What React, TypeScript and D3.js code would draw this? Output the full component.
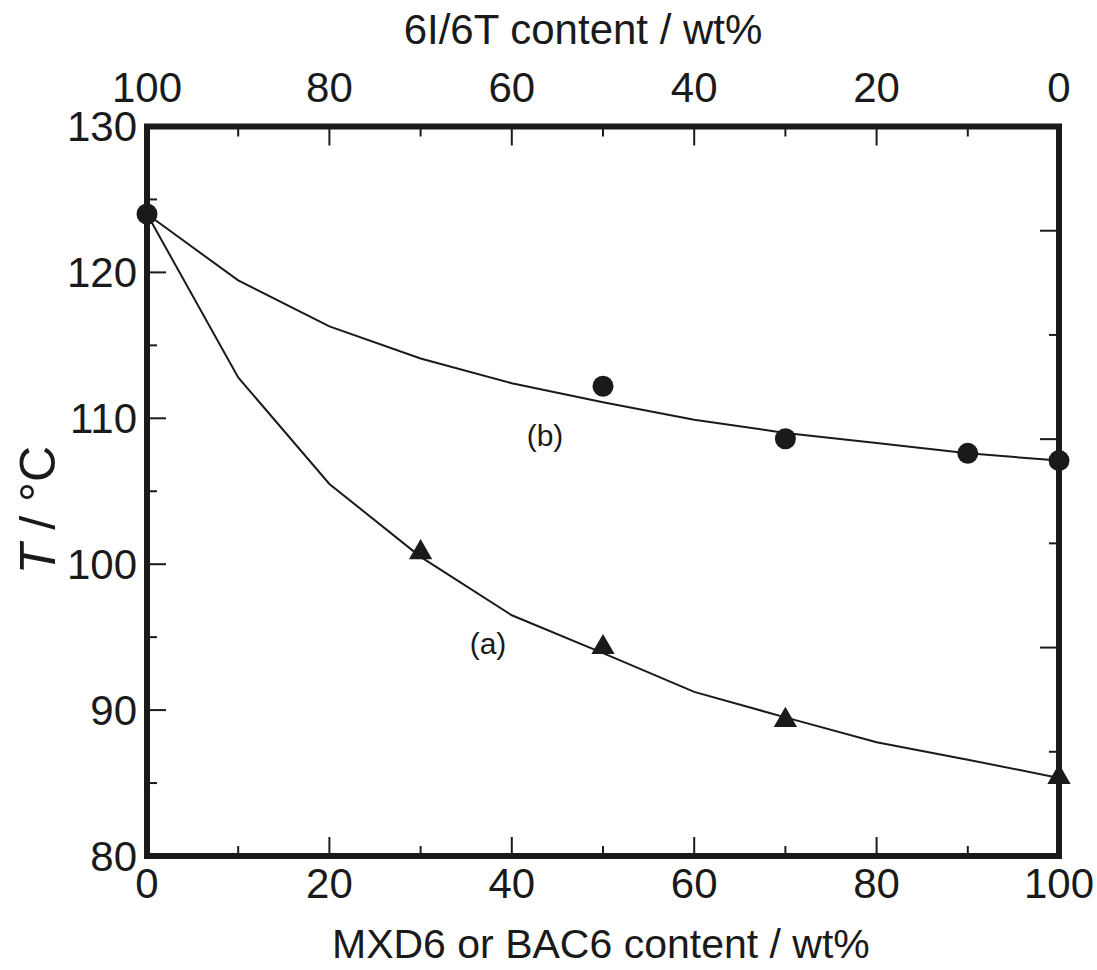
import React from "react";
import * as d3 from "d3";

// ---- data ----
const curveX = [0, 10, 20, 30, 40, 50, 60, 70, 80, 90, 100];
const curveA = [124, 112.8, 105.5, 100.5, 96.5, 93.9, 91.25, 89.5, 87.8, 86.6, 85.35];
const curveB = [124, 119.45, 116.3, 114.1, 112.4, 111.1, 109.9, 109.0, 108.3, 107.6, 107.1];
const circleX = [0, 50, 70, 90, 100];
const circleY = [124, 112.2, 108.6, 107.6, 107.1];
const triangleX = [30, 50, 70, 100];
const triangleY = [100.8, 94.3, 89.3, 85.4];

const bottomTicks = [0, 10, 20, 30, 40, 50, 60, 70, 80, 90, 100];
const bottomLabels = [0, 20, 40, 60, 80, 100];
const topTicks = [0, 10, 20, 30, 40, 50, 60, 70, 80, 90, 100];
const topLabels = [0, 20, 40, 60, 80, 100];
const leftTicks = [80, 85, 90, 95, 100, 105, 110, 115, 120, 125, 130];
const leftLabels = [80, 90, 100, 110, 120, 130];
const rightTicks = [10, 20, 30, 40, 50, 60];

const W = 1097;
const H = 970;
const FONT = "'Liberation Sans', Arial, Helvetica, sans-serif";

export default function App() {
  const x = d3.scaleLinear().domain([0, 100]).range([147, 1059]);
  const xTop = d3.scaleLinear().domain([100, 0]).range([147, 1059]);
  const y = d3.scaleLinear().domain([80, 130]).range([856, 126.5]);
  const yRight = d3.scaleLinear().domain([0, 70]).range([856, 126.5]);

  const line = d3
    .line<number>()
    .x((_, i) => x(curveX[i]))
    .y((d) => y(d));

  const tri = d3.symbol().type(d3.symbolTriangle).size(235)();

  const [x0, x1] = x.range();
  const [y0, y1] = y.range();
  const longT = 19;
  const shortT = 10;

  return (
    <svg
      width={W}
      height={H}
      style={{ position: "absolute", left: 0, top: 0, background: "#fff" }}
      fontFamily={FONT}
    >
      <rect x={0} y={0} width={W} height={H} fill="#fff" />
      {/* curves */}
      <path d={line(curveA) || ""} fill="none" stroke="#1a1a1a" strokeWidth={2} />
      <path d={line(curveB) || ""} fill="none" stroke="#1a1a1a" strokeWidth={2} />

      {/* ticks */}
      <g stroke="#1a1a1a" strokeWidth={2}>
        {bottomTicks.map((t) => (
          <line key={"b" + t} x1={x(t)} x2={x(t)} y1={y0} y2={y0 - (t % 20 === 0 ? longT : shortT)} />
        ))}
        {topTicks.map((t) => (
          <line key={"t" + t} x1={xTop(t)} x2={xTop(t)} y1={y1} y2={y1 + (t % 20 === 0 ? longT : shortT)} />
        ))}
        {leftTicks.map((t) => (
          <line key={"l" + t} x1={x0} x2={x0 + (t % 10 === 0 ? longT : shortT)} y1={y(t)} y2={y(t)} />
        ))}
        {rightTicks.map((t) => (
          <line key={"r" + t} x1={x1} x2={x1 - (t % 20 === 0 ? longT : shortT)} y1={yRight(t)} y2={yRight(t)} />
        ))}
      </g>

      {/* frame */}
      <rect
        x={x0}
        y={y1}
        width={x1 - x0}
        height={y0 - y1}
        fill="none"
        stroke="#1a1a1a"
        strokeWidth={6}
      />

      {/* markers */}
      {circleX.map((cx, i) => (
        <circle key={"c" + i} cx={x(cx)} cy={y(circleY[i])} r={10.5} fill="#1a1a1a" />
      ))}
      {triangleX.map((tx, i) => (
        <path
          key={"tr" + i}
          d={tri || ""}
          transform={`translate(${x(tx)},${y(triangleY[i])})`}
          fill="#1a1a1a"
        />
      ))}

      {/* tick labels */}
      <g fontSize={42} fill="#1a1a1a">
        {bottomLabels.map((t) => (
          <text key={"bl" + t} x={x(t)} y={898} textAnchor="middle">
            {t}
          </text>
        ))}
        {topLabels.map((t) => (
          <text key={"tl" + t} x={xTop(t)} y={102} textAnchor="middle">
            {t}
          </text>
        ))}
        {leftLabels.map((t) => (
          <text key={"ll" + t} x={137} y={y(t)} textAnchor="end" dominantBaseline="central">
            {t}
          </text>
        ))}
      </g>

      {/* axis titles */}
      <text x={583} y={44} fontSize={42} textAnchor="middle" fill="#1a1a1a">
        6I/6T content / wt%
      </text>
      <text x={332} y={958} fontSize={41} textAnchor="start" fill="#1a1a1a">
        MXD6 or BAC6 content / wt%
      </text>
      <text
        transform="translate(55,510) rotate(-90)"
        fontSize={50}
        textAnchor="middle"
        fill="#1a1a1a"
      >
        <tspan fontStyle="italic">T</tspan> / °C
      </text>

      {/* curve labels */}
      <text x={545} y={435} fontSize={30} textAnchor="middle" dominantBaseline="central" fill="#1a1a1a">
        (b)
      </text>
      <text x={488} y={643} fontSize={30} textAnchor="middle" dominantBaseline="central" fill="#1a1a1a">
        (a)
      </text>
    </svg>
  );
}
